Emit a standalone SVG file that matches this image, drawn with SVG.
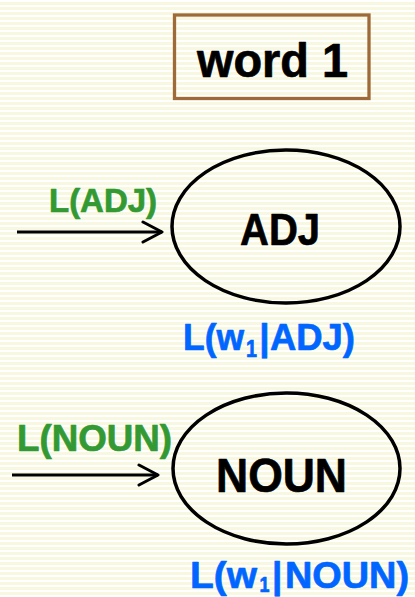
<svg xmlns="http://www.w3.org/2000/svg" width="415" height="597" viewBox="0 0 415 597">
<defs>
<pattern id="stripes" x="0" y="0" width="10" height="5" patternUnits="userSpaceOnUse">
<rect x="0" y="0" width="10" height="5" fill="#ffffff"/>
<rect x="0" y="2" width="10" height="3" fill="#f7f8df"/>
</pattern>
<marker id="arrow" viewBox="0 0 24 24" refX="21" refY="12" markerWidth="24" markerHeight="24" markerUnits="userSpaceOnUse" orient="auto">
<polyline points="2,2 21,12 2,22" fill="none" stroke="#000" stroke-width="3" stroke-linecap="round" stroke-linejoin="round"/>
</marker>
</defs>
<style>
.lbl{font-family:"Liberation Sans",Arial,sans-serif;font-weight:bold;stroke-width:0.7;stroke-linejoin:round}
.blk{fill:#000;stroke:#000}
.node{fill:none;stroke:#000;stroke-width:3.5}
.green{fill:#339933;stroke:#339933}
.blue{fill:#0066ff;stroke:#0066ff}
.conn{stroke:#000;stroke-width:3;fill:none}
</style>
<rect width="415" height="597" fill="url(#stripes)"/>
<g id="word1">
<rect x="174.5" y="15" width="194.5" height="83.5" fill="none" stroke="#9e6b38" stroke-width="3.3"/>
<text class="lbl blk" x="197" y="77" font-size="48" textLength="151" lengthAdjust="spacingAndGlyphs">word 1</text>
</g>
<g id="connectors">
<line class="conn" x1="17" y1="232" x2="162" y2="232" marker-end="url(#arrow)"/>
<line class="conn" x1="12" y1="475" x2="158" y2="475" marker-end="url(#arrow)"/>
</g>
<g id="adj">
<ellipse class="node" cx="286" cy="226.5" rx="114" ry="76.5"/>
<text class="lbl blk" x="240" y="245" font-size="45" textLength="80" lengthAdjust="spacingAndGlyphs">ADJ</text>
<text class="lbl green" x="49" y="212" font-size="33" textLength="108" lengthAdjust="spacingAndGlyphs">L(ADJ)</text>
<text class="lbl blue" x="183" y="350" font-size="37" textLength="61" lengthAdjust="spacingAndGlyphs">L(w</text>
<text class="lbl blue" x="246" y="357" font-size="23" textLength="11" lengthAdjust="spacingAndGlyphs">1</text>
<text class="lbl blue" x="259.3" y="350" font-size="37">|</text>
<text class="lbl blue" x="270" y="350" font-size="37" textLength="85" lengthAdjust="spacingAndGlyphs">ADJ)</text>
</g>
<g id="noun">
<ellipse class="node" cx="286.5" cy="468.5" rx="113.5" ry="75.5"/>
<text class="lbl blk" x="216" y="492" font-size="48" textLength="131" lengthAdjust="spacingAndGlyphs">NOUN</text>
<text class="lbl green" x="17" y="451" font-size="36" textLength="155" lengthAdjust="spacingAndGlyphs">L(NOUN)</text>
<text class="lbl blue" x="190" y="588" font-size="37" textLength="67" lengthAdjust="spacingAndGlyphs">L(w</text>
<text class="lbl blue" x="259.5" y="592" font-size="22" textLength="10" lengthAdjust="spacingAndGlyphs">1</text>
<text class="lbl blue" x="272" y="588" font-size="37">|</text>
<text class="lbl blue" x="285" y="588" font-size="37" textLength="124" lengthAdjust="spacingAndGlyphs">NOUN)</text>
</g>
</svg>
